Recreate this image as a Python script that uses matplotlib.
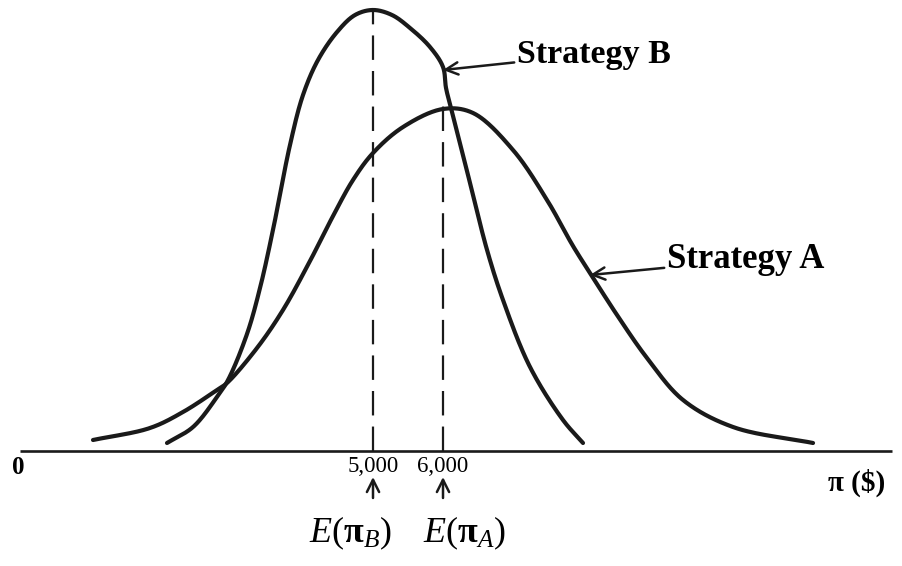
import numpy as np
import matplotlib.pyplot as plt

plt.rcParams['font.family'] = ['Liberation Serif', 'DejaVu Serif']
plt.rcParams['mathtext.fontset'] = 'custom'
plt.rcParams['mathtext.rm'] = 'Liberation Serif'
plt.rcParams['mathtext.it'] = 'Liberation Serif:italic'
plt.rcParams['mathtext.bf'] = 'Liberation Serif:bold'

# Profit distributions (profit in $, relative probability height)
profit_b = [2057, 2429, 2771, 2929, 3200, 3386, 3571, 3814, 4000, 4214,
            4486, 4743, 5000, 5271, 5529, 5814, 6000, 6043, 6114, 6386,
            6629, 6857, 7243, 7714, 8000]
height_b = [0.08, 0.24, 0.54, 0.71, 1.17, 1.63, 2.21, 3.06, 3.56, 3.91,
            4.19, 4.36, 4.41, 4.36, 4.23, 4.04, 3.84, 3.63, 3.43, 2.68,
            2.01, 1.51, 0.84, 0.31, 0.08]

profit_a = [1000, 1814, 2286, 2771, 2914, 3343, 3714, 4100, 4429, 4714,
            5000, 5429, 6000, 6429, 7000, 7486, 7857, 8100, 8486, 8914,
            9429, 10143, 11286]
height_a = [0.11, 0.23, 0.39, 0.61, 0.68, 1.03, 1.41, 1.90, 2.35, 2.71,
            2.98, 3.24, 3.42, 3.38, 3.01, 2.51, 2.05, 1.78, 1.36, 0.93,
            0.51, 0.24, 0.08]

mean_b, mean_a = 5000, 6000
tick_labels = ['5,000', '6,000']


def catmull_rom(xs, ys, n=30, sx=0.07, sy=100.0):
    """Centripetal Catmull-Rom curve through the points (scaled to look even)."""
    p = np.column_stack([np.asarray(xs) * sx, np.asarray(ys) * sy])
    p = np.vstack([2 * p[0] - p[1], p, 2 * p[-1] - p[-2]])
    out = []
    for i in range(1, len(p) - 2):
        p0, p1, p2, p3 = p[i - 1], p[i], p[i + 1], p[i + 2]
        t0 = 0.0
        t1 = t0 + np.linalg.norm(p1 - p0) ** 0.5
        t2 = t1 + np.linalg.norm(p2 - p1) ** 0.5
        t3 = t2 + np.linalg.norm(p3 - p2) ** 0.5
        t = np.linspace(t1, t2, n)[:, None]
        a1 = (t1 - t) / (t1 - t0) * p0 + (t - t0) / (t1 - t0) * p1
        a2 = (t2 - t) / (t2 - t1) * p1 + (t - t1) / (t2 - t1) * p2
        a3 = (t3 - t) / (t3 - t2) * p2 + (t - t2) / (t3 - t2) * p3
        b1 = (t2 - t) / (t2 - t0) * a1 + (t - t0) / (t2 - t0) * a2
        b2 = (t3 - t) / (t3 - t1) * a2 + (t - t1) / (t3 - t1) * a3
        c = (t2 - t) / (t2 - t1) * b1 + (t - t1) / (t2 - t1) * b2
        out.append(c if i == 1 else c[1:])
    c = np.vstack(out)
    return c[:, 0] / sx, c[:, 1] / sy


fig = plt.figure(figsize=(9.02, 5.66), dpi=100)
ax = fig.add_axes([0, 0, 1, 1])
ax.set_xlim(-328.6, 12557)
ax.set_ylim(-1.15, 4.51)
ax.axis('off')

ink = '#1a1a1a'

# horizontal profit axis
ax.plot([-43, 12414], [0, 0], color=ink, lw=1.9, solid_capstyle='butt')

for xs, ys in [(profit_b, height_b), (profit_a, height_a)]:
    cx, cy = catmull_rom(xs, ys)
    ax.plot(cx, cy, color=ink, lw=3.0, solid_capstyle='round')

# expected values
for m, top in [(mean_b, max(height_b)), (mean_a, 3.55)]:
    ln, = ax.plot([m, m], [0, top], color=ink, lw=1.6)
    ln.set_dashes((11, 5))

for m, lab in zip([mean_b, mean_a], tick_labels):
    ax.text(m, -0.16, lab, ha='center', va='center', fontsize=16.5)
    ax.annotate('', xy=(m, -0.26), xytext=(m, -0.47),
                arrowprops=dict(arrowstyle='->', lw=1.8, color=ink,
                                mutation_scale=22, shrinkA=0, shrinkB=0))

ax.text(4680, -0.82, r'$E(\mathbf{\pi}_B)$', ha='center', va='center', fontsize=26)
ax.text(6314, -0.82, r'$E(\mathbf{\pi}_A)$', ha='center', va='center', fontsize=26)

ax.text(-71, -0.17, '0', ha='center', va='center', fontsize=18, fontweight='bold')
ax.text(11914, -0.32, 'π ($)', ha='center', va='center', fontsize=21, fontweight='bold')

# curve labels
ax.annotate('Strategy B', xy=(6000, 3.81), xytext=(7057, 3.97),
            ha='left', va='center', fontsize=24.5, fontweight='bold',
            arrowprops=dict(arrowstyle='->', lw=1.8, color=ink,
                            mutation_scale=22, shrinkA=0, shrinkB=0))
ax.annotate('Strategy A', xy=(8100, 1.76), xytext=(9200, 1.91),
            ha='left', va='center', fontsize=25, fontweight='bold',
            arrowprops=dict(arrowstyle='->', lw=1.8, color=ink,
                            mutation_scale=22, shrinkA=0, shrinkB=0))

fig.savefig('out.png', dpi=100, facecolor='white')
